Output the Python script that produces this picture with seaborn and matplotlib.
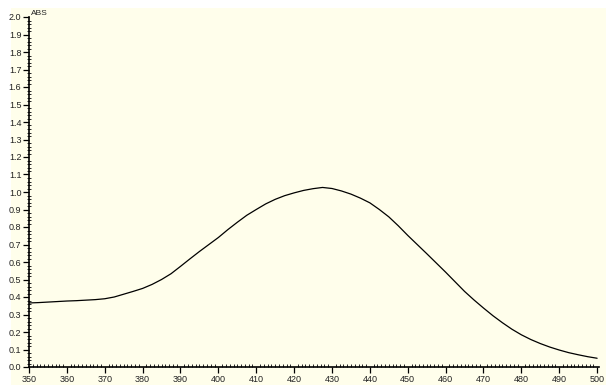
import matplotlib
matplotlib.use("Agg")
import matplotlib.pyplot as plt
from matplotlib.patches import Rectangle
from matplotlib.ticker import MultipleLocator, FormatStrFormatter
import seaborn as sns
import pandas as pd

wavelength = [350, 352.5, 355, 357.5, 360, 362.5, 365, 367.5, 370, 372.5, 375,
              377.5, 380, 382.5, 385, 387.5, 390, 392.5, 395, 397.5, 400, 402.5,
              405, 407.5, 410, 412.5, 415, 417.5, 420, 422.5, 425, 427.5, 430,
              432.5, 435, 437.5, 440, 442.5, 445, 447.5, 450, 452.5, 455, 457.5,
              460, 462.5, 465, 467.5, 470, 472.5, 475, 477.5, 480, 482.5, 485,
              487.5, 490, 492.5, 495, 497.5, 500]
absorbance = [0.366, 0.368, 0.371, 0.374, 0.377, 0.379, 0.382, 0.385, 0.390,
              0.400, 0.416, 0.432, 0.449, 0.472, 0.500, 0.533, 0.575, 0.618,
              0.660, 0.700, 0.740, 0.785, 0.827, 0.867, 0.900, 0.932, 0.958,
              0.979, 0.995, 1.009, 1.019, 1.026, 1.020, 1.006, 0.988, 0.965,
              0.938, 0.900, 0.858, 0.807, 0.752, 0.700, 0.648, 0.595, 0.542,
              0.487, 0.432, 0.383, 0.337, 0.293, 0.253, 0.216, 0.184, 0.157,
              0.134, 0.114, 0.097, 0.082, 0.070, 0.059, 0.050]
y_label = "ABS"

df = pd.DataFrame({"nm": wavelength, "abs": absorbance})

sns.set_style("ticks")
plt.rcParams['font.family'] = ['Liberation Sans Narrow', 'Liberation Sans', 'DejaVu Sans']

bg = '#FFFEEB'
fig = plt.figure(figsize=(6.06, 3.85), dpi=100)
fig.patch.set_facecolor('white')
fig.patches.append(Rectangle((11/606, 0), 1, 1 - 8/385, transform=fig.transFigure,
                             facecolor=bg, edgecolor='none', zorder=-10))
ax = fig.add_axes([29/606, 1 - 367/385, 570/606, 350/385])
ax.set_facecolor(bg)
ax.set_zorder(1)

sns.lineplot(data=df, x="nm", y="abs", ax=ax, color='black', linewidth=0.9)

ax.set_xlim(350, 500.5)
ax.set_ylim(0, 2.0)
ax.set_xlabel("")
ax.set_ylabel("")
for s in ['top', 'right']:
    ax.spines[s].set_visible(False)
for s in ['left', 'bottom']:
    ax.spines[s].set_color('black')
    ax.spines[s].set_linewidth(1.2)

ax.xaxis.set_major_locator(MultipleLocator(10))
ax.xaxis.set_minor_locator(MultipleLocator(1))
ax.yaxis.set_major_locator(MultipleLocator(0.1))
ax.yaxis.set_minor_locator(MultipleLocator(0.02))
ax.yaxis.set_major_formatter(FormatStrFormatter('%.1f'))
ax.xaxis.set_major_formatter(FormatStrFormatter('%d'))

ax.tick_params(axis='both', which='major', labelsize=6.5, length=4, width=0.9,
               direction='out', pad=1.5, colors='black', labelcolor='#222222')
ax.tick_params(axis='x', which='minor', length=2.5, width=0.7, direction='in')
ax.tick_params(axis='y', which='minor', length=3, width=0.7, direction='inout')
ax.tick_params(axis='x', which='major', pad=2)

ax.text(0.004, 1.0, y_label, transform=ax.transAxes, fontsize=6, ha='left', va='bottom',
        color='#222222')

fig.savefig("out.png", dpi=100, facecolor=fig.get_facecolor())
